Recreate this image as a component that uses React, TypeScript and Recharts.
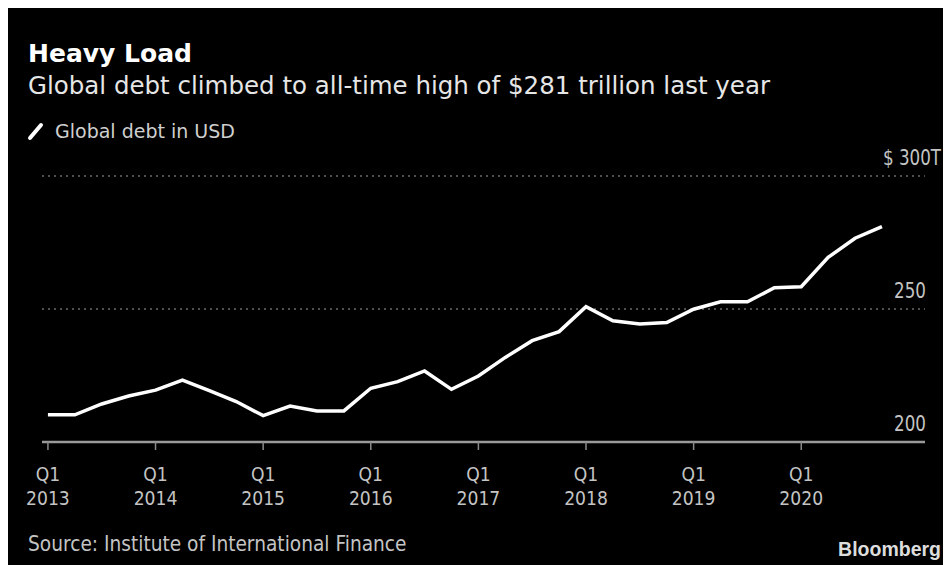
import React from "react";
import { LineChart, Line, XAxis, YAxis, CartesianGrid } from "recharts";

const quarters = [
  "Q1 2013", "Q2 2013", "Q3 2013", "Q4 2013",
  "Q1 2014", "Q2 2014", "Q3 2014", "Q4 2014",
  "Q1 2015", "Q2 2015", "Q3 2015", "Q4 2015",
  "Q1 2016", "Q2 2016", "Q3 2016", "Q4 2016",
  "Q1 2017", "Q2 2017", "Q3 2017", "Q4 2017",
  "Q1 2018", "Q2 2018", "Q3 2018", "Q4 2018",
  "Q1 2019", "Q2 2019", "Q3 2019", "Q4 2019",
  "Q1 2020", "Q2 2020", "Q3 2020", "Q4 2020",
];

const globalDebt = [
  210.2, 210.2, 214.3, 217.3,
  219.5, 223.3, 219.3, 215.2,
  209.9, 213.5, 211.7, 211.7,
  220.2, 222.7, 226.7, 219.8,
  224.8, 231.8, 238.1, 241.5,
  250.9, 245.6, 244.4, 244.9,
  249.9, 252.7, 252.7, 258.0,
  258.4, 269.4, 276.6, 281.0,
];

const xTickIndexes = [0, 4, 8, 12, 16, 20, 24, 28];
const yTicks = [200, 250, 300];
const yTickLabels: Record<number, string> = { 200: "200", 250: "250", 300: "$ 300T" };

const data = quarters.map((q, i) => ({ idx: i, quarter: q, debt: globalDebt[i] }));

const FONT = "'DejaVu Sans', 'Noto Sans', sans-serif";

const XTick = (props: any) => {
  const { x, y, payload } = props;
  const label = quarters[payload.value] || "";
  const [q, yr] = label.split(" ");
  return (
    <g transform={`translate(${x},${y}) scale(0.86,1)`}>
      <text x={0} y={29} textAnchor="middle" fill="#c4c4c4" fontSize={20} fontFamily={FONT}>{q}</text>
      <text x={0} y={53} textAnchor="middle" fill="#c4c4c4" fontSize={20} fontFamily={FONT}>{yr}</text>
    </g>
  );
};

const YTick = (props: any) => {
  const { y, payload } = props;
  const v = payload.value as number;
  const isTop = v === 300;
  return (
    <g transform={`translate(${isTop ? 935 : 920},${y - 11}) scale(0.76,1)`}>
      <text x={0} y={0} textAnchor="end" fill="#c4c4c4" fontSize={22} fontFamily={FONT}>
        {yTickLabels[v]}
      </text>
    </g>
  );
};

export default function App() {
  return (
    <div style={{ marginLeft: -2, marginTop: -2, width: 945, height: 559, background: "#000", position: "relative", overflow: "hidden" }}>
      <LineChart width={945} height={559} data={data} margin={{ top: 170, right: 0, bottom: 93, left: 36 }}>
        <CartesianGrid vertical={false} stroke="#6a6a6a" strokeDasharray="2 4" strokeWidth={1.5} />
        <XAxis
          type="number"
          dataKey="idx"
          domain={[-0.22, 32.6]}
          allowDataOverflow
          ticks={xTickIndexes}
          interval={0}
          height={30}
          axisLine={{ stroke: "#9a9a9a", strokeWidth: 2.5 }}
          tickLine={{ stroke: "#8a8a8a", strokeWidth: 1.5 }}
          tickSize={8}
          tick={<XTick />}
        />
        <YAxis
          orientation="right"
          width={26}
          domain={[200, 300]}
          ticks={yTicks}
          interval={0}
          axisLine={false}
          tickLine={false}
          tick={<YTick />}
        />
        <Line type="linear" dataKey="debt" stroke="#ffffff" strokeWidth={3.5} dot={false} isAnimationActive={false} />
      </LineChart>
      <svg width={945} height={559} style={{ position: "absolute", left: 0, top: 0, pointerEvents: "none" }}>
        <text x={22} y={56} fill="#ffffff" fontSize={25} fontWeight="bold" fontFamily={FONT}>Heavy Load</text>
        <text x={22} y={88} fill="#e6e6e6" fontSize={24.5} fontFamily={FONT}>Global debt climbed to all-time high of $281 trillion last year</text>
        <line x1={24} y1={132} x2={35} y2={119} stroke="#ffffff" strokeWidth={4} strokeLinecap="round" />
        <text x={49} y={132} fill="#cfcfcf" fontSize={19} fontFamily={FONT}>Global debt in USD</text>
        <g transform="translate(22,545) scale(0.845,1)">
          <text x={0} y={0} fill="#c4c4c4" fontSize={22} fontFamily={FONT}>Source: Institute of International Finance</text>
        </g>
        <text x={935} y={550} textAnchor="end" fill="#dddddd" fontSize={19.5} fontWeight="bold" fontFamily="'Liberation Sans', Arial, sans-serif">Bloomberg</text>
      </svg>
    </div>
  );
}
